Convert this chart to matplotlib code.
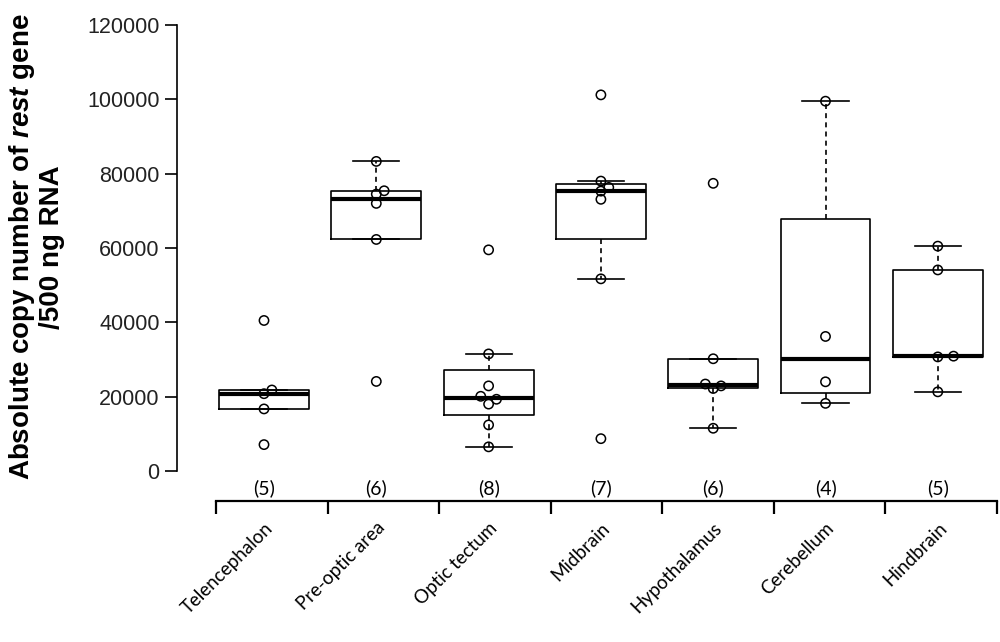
import numpy as np
import matplotlib
matplotlib.use('Agg')
import matplotlib.pyplot as plt

plt.rcParams['font.family'] = ['Liberation Sans', 'DejaVu Sans']
plt.rcParams['mathtext.fontset'] = 'custom'
plt.rcParams['mathtext.bfit'] = 'Liberation Sans:italic:bold'

# values (copies / 500 ng RNA)
regions = ['Telencephalon', 'Pre-optic area', 'Optic tectum', 'Midbrain',
           'Hypothalamus', 'Cerebellum', 'Hindbrain']
telencephalon = [7100, 16700, 20800, 21800, 40500]
preoptic = [24100, 62300, 72000, 74500, 75400, 83300]
optic_tectum = [6500, 12400, 18000, 19300, 20100, 22900, 31500, 59500]
midbrain = [8700, 51700, 73100, 75300, 76300, 78000, 101200]
hypothalamus = [11500, 22200, 22900, 23400, 30200, 77400]
cerebellum = [18200, 24000, 36200, 99500]
hindbrain = [21300, 30700, 30900, 54100, 60500]
groups = [telencephalon, preoptic, optic_tectum, midbrain,
          hypothalamus, cerebellum, hindbrain]
y_ticks = [0, 20000, 40000, 60000, 80000, 100000, 120000]


def fivenum(v):
    # Tukey's five number summary, as R's boxplot uses
    x = np.sort(np.asarray(v, dtype=float))
    n = len(x)
    n4 = np.floor((n + 3) / 2) / 2
    d = np.array([1, n4, (n + 1) / 2, n + 1 - n4, n]) - 1
    return 0.5 * (x[np.floor(d).astype(int)] + x[np.ceil(d).astype(int)])


def box_stats(v):
    lo, q1, med, q3, hi = fivenum(v)
    iqr = q3 - q1
    x = np.asarray(v)
    wlo = x[x >= q1 - 1.5 * iqr].min()
    whi = x[x <= q3 + 1.5 * iqr].max()
    return dict(med=med, q1=q1, q3=q3, whislo=wlo, whishi=whi, fliers=[])


fig = plt.figure(figsize=(10, 6.42), dpi=100)
ax = fig.add_axes([0.177, 1 - 540 / 642, 1 - 0.177, 535 / 642])

pos = np.arange(1, len(regions) + 1)
stats = [box_stats(g) for g in groups]
ax.bxp(stats, positions=pos, widths=0.8, capwidths=0.41, showfliers=False,
       boxprops=dict(color='black', linewidth=1.2),
       medianprops=dict(color='black', linewidth=3),
       whiskerprops=dict(color='black', linewidth=1.2, linestyle=(0, (3, 2.5))),
       capprops=dict(color='black', linewidth=1.2))

# points, nudged sideways where they would overlap
px_x, px_y = 112.3, 446 / 120000
for p, g in zip(pos, groups):
    placed = []
    for v in g:
        for off in (0, 0.07, -0.07, 0.14):
            if all(np.hypot((off - o) * px_x, (v - w) * px_y) >= 8 for o, w in placed):
                break
        placed.append((off, v))
    ax.scatter([p + o for o, _ in placed], [w for _, w in placed], s=45,
               facecolors='none', edgecolors='black', linewidths=1.1, zorder=3)

ylo = -(540 - 471) / px_y
yhi = (471 - 5) / px_y
ax.set_ylim(ylo, yhi)
ax.set_xlim(1 - (264 - 177) / px_x, 1 + (1000 - 264) / px_x)

for s in ['top', 'right']:
    ax.spines[s].set_visible(False)
ax.spines['left'].set_bounds(0, 120000)
ax.spines['left'].set_linewidth(1.2)
ax.set_yticks(y_ticks)
ax.set_yticklabels([str(t) for t in y_ticks])
ax.tick_params(axis='y', length=8.6, width=1.2, labelsize=15.5, pad=4,
               labelcolor='#222222')

# bracket axis under the boxes
edges = np.linspace(0.573, 7.527, 8)
ax.spines['bottom'].set_position(('data', -(501 - 471) / px_y))
ax.spines['bottom'].set_bounds(edges[0], edges[-1])
ax.spines['bottom'].set_linewidth(1.6)
ax.set_xticks(edges)
ax.set_xticklabels([])
ax.tick_params(axis='x', which='major', length=9, width=1.6)
ax.set_xticks(pos, regions, minor=True, rotation=45, ha='right',
              rotation_mode='anchor', family='Lato', fontsize=13.5)
ax.tick_params(axis='x', which='minor', length=0, pad=13)

for p, g in zip(pos, groups):
    ax.text(p, -(488 - 471) / px_y, f'({len(g)})', ha='center', va='center',
            family='Lato', fontsize=14)

fig.text(0.036, 1 - 247 / 642,
         'Absolute copy number of $\\mathbfit{rest}$ gene\n/500 ng RNA',
         rotation=90, ha='center', va='center', multialignment='center',
         fontsize=20, fontweight='bold', linespacing=1.1)

fig.savefig('out.png', dpi=100)
